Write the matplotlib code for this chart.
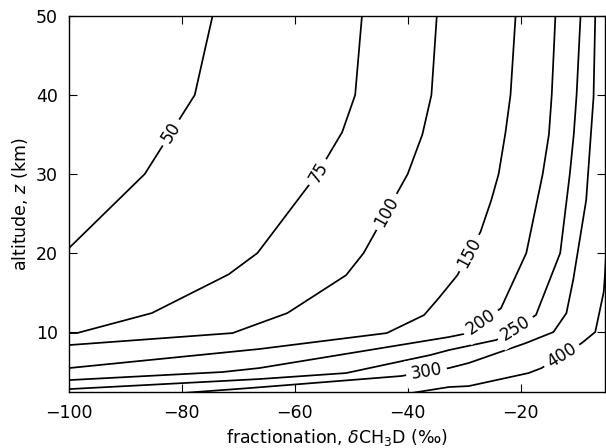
import numpy as np
import matplotlib
matplotlib.use('Agg')
import matplotlib.pyplot as plt

# Contour lines: (fractionation in permil, altitude in km)
levels = [50, 75, 100, 150, 200, 250, 300, 400]

c50_x = [-100, -86.55, -77.7, -76.1, -74.55]
c50_z = [20.6, 30.0, 40.0, 45.1, 50.0]

c75_x = [-100, -98.55, -85.3, -71.7, -66.6, -56.0, -51.6, -49.3, -48.1]
c75_z = [9.87, 9.87, 12.4, 17.3, 20.0, 30.0, 35.3, 40.0, 50.0]

c100_x = [-100, -71.0, -66.3, -61.3, -50.9, -47.8, -40.0, -37.4, -35.8, -34.85]
c100_z = [8.35, 9.87, 11.1, 12.4, 17.2, 20.0, 30.0, 35.0, 40.0, 50.0]

c150_x = [-100, -66.3, -43.7, -37.1, -34.5, -31.2, -27.1, -25.2, -23.9, -22.7, -21.8, -20.9]
c150_z = [5.44, 7.85, 9.87, 12.15, 14.3, 17.2, 22.7, 26.7, 30.0, 35.2, 40.0, 50.0]

c200_x = [-100, -72.8, -66.3, -32.7, -30.1, -23.5, -19.0, -16.1, -15.0, -14.5, -13.85]
c200_z = [3.92, 4.94, 5.44, 9.37, 9.75, 13.0, 20.0, 30.0, 35.0, 40.0, 50.0]

c250_x = [-100, -66.3, -50.9, -36.0, -32.7, -24.3, -17.3, -13.0, -11.3, -10.6, -10.1, -9.4]
c250_z = [2.78, 4.05, 4.81, 7.09, 7.72, 9.0, 12.15, 20.0, 30.0, 35.0, 40.0, 50.0]

c300_x = [-80.0, -68.0, -41.2, -32.7, -29.2, -19.1, -14.2, -11.9, -10.7, -8.4, -7.1, -6.8]
c300_z = [2.28, 2.91, 4.43, 5.44, 6.08, 8.6, 10.0, 12.4, 16.6, 26.7, 39.7, 50.0]

c400_x = [-39.4, -32.7, -29.2, -18.6, -16.3, -9.2, -6.8, -5.3, -5.1, -4.5]
c400_z = [2.28, 3.04, 3.16, 4.81, 5.44, 8.6, 10.0, 15.06, 17.0, 25.0]

# approximate label spots
label_x = [-81.8, -55.6, -44.2, -29.1, -26.9, -20.4, -36.7, -12.8]
label_z = [35.2, 30.1, 25.4, 20.0, 11.1, 9.87, 5.06, 7.1]

lines_x = [c50_x, c75_x, c100_x, c150_x, c200_x, c250_x, c300_x, c400_x]
lines_z = [c50_z, c75_z, c100_z, c150_z, c200_z, c250_z, c300_z, c400_z]

plt.rcParams['font.family'] = 'DejaVu Sans'
fig = plt.figure(figsize=(6.06, 4.48), dpi=100)
ax = fig.add_axes([0.1135, 0.1239, 0.8855, 0.8404])

for xs, zs in zip(lines_x, lines_z):
    ax.plot(xs, zs, color='black', lw=1.25, solid_joinstyle='round')

ax.set_xlim(-100, -5)
ax.set_ylim(2.35, 50)
ax.set_xticks([-100, -80, -60, -40, -20])
ax.set_yticks([10, 20, 30, 40, 50])
ax.tick_params(direction='in', length=6, width=0.8, top=True, right=True,
               labelsize=12.5, pad=8)
for s in ax.spines.values():
    s.set_linewidth(1.0)

ax.set_xlabel(r'fractionation, $\delta$CH$_3$D (‰)', fontsize=12.5)
ax.set_ylabel(r'altitude, $z$ (km)', fontsize=12.5)

# put each label on its line, rotated along it
fig.canvas.draw()
for lev, xs, zs, lx, lz in zip(levels, lines_x, lines_z, label_x, label_z):
    pts = ax.transData.transform(np.column_stack([xs, zs]))
    p = ax.transData.transform((lx, lz))
    best = None
    for a, b in zip(pts[:-1], pts[1:]):
        d = b - a
        t = np.clip(np.dot(p - a, d) / np.dot(d, d), 0, 1)
        q = a + t * d
        dist = np.hypot(*(p - q))
        if best is None or dist < best[0]:
            best = (dist, q, d)
    _, q, d = best
    ang = np.degrees(np.arctan2(d[1], d[0]))
    if ang > 90:
        ang -= 180
    if ang < -90:
        ang += 180
    qx, qz = ax.transData.inverted().transform(q)
    ax.text(qx, qz, str(lev), rotation=ang, rotation_mode='anchor',
            ha='center', va='center', fontsize=12,
            bbox=dict(fc='white', ec='none', pad=3.5))

fig.savefig('out.png', dpi=100)
